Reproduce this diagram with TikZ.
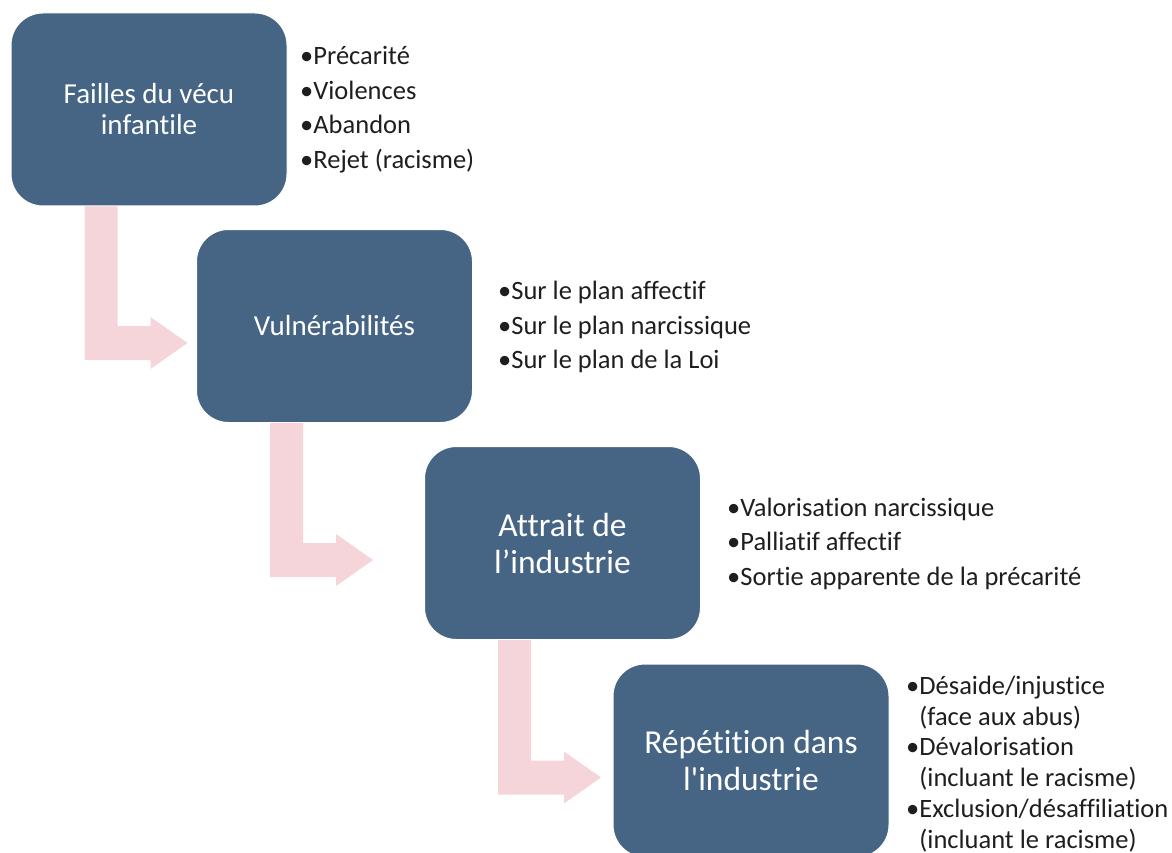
\documentclass[tikz,border=0pt]{standalone}
\usepackage{fontspec}
\setmainfont{Carlito}[Ligatures=NoCommon]
\usetikzlibrary{calc}
\definecolor{boxblue}{HTML}{466584}
\definecolor{flowpink}{HTML}{F5D5DA}
\definecolor{listgray}{HTML}{1E1E1E}
% bent block arrow from the foot of one stage to the side of the next
\newcommand\bentarrow[2]{\fill[flow] let \p1=(#1.south west), \p2=(#2.north) in
	(\x1+74pt,\y1) -- (\x1+107pt,\y1) -- (\x1+107pt,\y2-97pt) -- (\x1+140pt,\y2-97pt)
	-- (\x1+140pt,\y2-88pt) -- (\x1+177pt,\y2-114pt) -- (\x1+140pt,\y2-140pt)
	-- (\x1+140pt,\y2-131pt) -- (\x1+74pt,\y2-131pt) -- cycle;}

\begin{document}
\begin{tikzpicture}[x=1pt,y=-1pt,
	stage/.style={rectangle, rounded corners=32pt, fill=boxblue, draw=white, line width=1pt,
		minimum width=276pt, minimum height=193pt, inner sep=0pt, text=white, align=center},
	smalltext/.style={font=\fontsize{29}{31}\selectfont},
	bigtext/.style={font=\fontsize{33.5}{37}\selectfont},
	items/.style={anchor=west, align=left, text=listgray, inner sep=0pt,
		font=\fontsize{26.5}{34.5}\selectfont},
	flow/.style={fill=flowpink}]
			%%%%% START %%%%%
			\useasboundingbox (0,0) rectangle (1172,853);
			
			\node[stage, smalltext] (failles) at (149, 109.5) {Failles du vécu\\infantile};
			\node[stage, smalltext] (vulne) at (334.5, 326) {Vulnérabilités};
			\node[stage, bigtext] (attrait) at (562.5, 543) {Attrait de\\l’industrie};
			\node[stage, bigtext] (repet) at (751, 760.5) {Répétition dans\\l\textquotesingle industrie};
			
			\node[items] (liste1) at (300, 109.5) {•Précarité\\•Violences\\•Abandon\\•Rejet (racisme)};
			\node[items] (liste2) at (498, 327) {•Sur le plan affectif\\•Sur le plan narcissique\\•Sur le plan de la Loi};
			\node[items] (liste3) at (727, 543.5) {•Valorisation narcissique\\•Palliatif affectif\\•Sortie apparente de la précarité};
			\node[items, font=\fontsize{26.5}{30.8}\selectfont] (liste4) at (906, 764)
				{•Désaide/injustice\\\hphantom{•}(face aux abus)\\•Dévalorisation\\\hphantom{•}(incluant le racisme)\\•Exclusion/désaffiliation\\\hphantom{•}(incluant le racisme)};
			
			\bentarrow{failles}{vulne}
			\bentarrow{vulne}{attrait}
			\bentarrow{attrait}{repet}
			
			%%%%% END %%%%%
\end{tikzpicture}
\end{document}
